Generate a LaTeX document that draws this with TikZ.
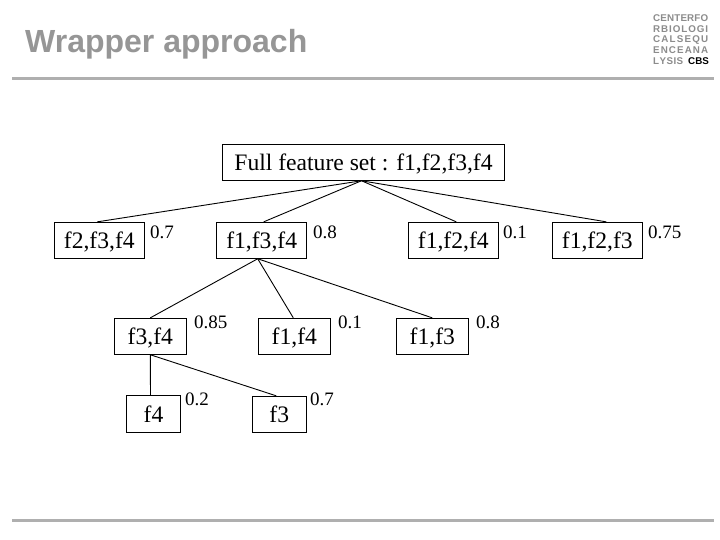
\documentclass[tikz,border=0pt]{standalone}
\usepackage{fontspec}
\setmainfont{Liberation Serif}
\newfontfamily\sansf{Liberation Sans}
\definecolor{titlegray}{RGB}{150,150,150}
\definecolor{rulegray}{RGB}{175,175,175}
\definecolor{logogray}{RGB}{140,140,140}
\tikzset{
  fbox/.style={draw=black,line width=0.9pt,fill=white,inner sep=0pt,text height=21pt,text depth=4pt,font=\fontsize{23.6}{28}\selectfont},
  score/.style={inner sep=0pt,font=\fontsize{19}{22}\selectfont,anchor=base west},
  link/.style={draw=black,line width=0.9pt},
  rulebar/.style={fill=rulegray,draw=none},
  logotxt/.style={inner sep=0pt,anchor=base west,text=logogray,font=\sansf\bfseries\fontsize{9.8}{10}\selectfont}
}
\newcommand{\boxnode}[6]{\node[fbox,minimum width=#4pt,minimum height=#5pt] (#1) at (#2,#3) {#6};}
\begin{document}
\begin{tikzpicture}[x=1pt,y=-1pt]
\useasboundingbox (0,0) rectangle (720,540);
\fill[white] (0,0) rectangle (720,540);
\node[inner sep=0pt,anchor=base west,text=titlegray,font=\sansf\bfseries\fontsize{32}{36}\selectfont] (title) at (25,53) {Wrapper approach};
\fill[rulebar] (12,76.8) rectangle (714,79.8);
\fill[rulebar] (12,518.5) rectangle (714,521.5);
\node[logotxt] (l1) at (653,22) {\hbox to 55pt{C\hfil E\hfil N\hfil T\hfil E\hfil R\hfil F\hfil O}};
\node[logotxt] (l2) at (653,32.5) {\hbox to 55pt{R\hfil B\hfil I\hfil O\hfil L\hfil O\hfil G\hfil I}};
\node[logotxt] (l3) at (653,43) {\hbox to 55pt{C\hfil A\hfil L\hfil S\hfil E\hfil Q\hfil U}};
\node[logotxt] (l4) at (653,53.5) {\hbox to 55pt{E\hfil N\hfil C\hfil E\hfil A\hfil N\hfil A}};
\node[logotxt] (l5) at (653,64.5) {\hbox to 30pt{L\hfil Y\hfil S\hfil I\hfil S}};
\node[logotxt,text=black,font=\sansf\bfseries\fontsize{9.8}{10}\selectfont] (l6) at (688,64.5) {\hbox to 20pt{C\hfil B\hfil S}};
\boxnode{root}{363.5}{162.3}{281.6}{36}{Full feature set : f1,f2,f3,f4}
\boxnode{a}{99.3}{240.3}{90}{36}{f2,f3,f4}
\boxnode{b}{261.7}{240.3}{90}{36}{f1,f3,f4}
\boxnode{c}{453.3}{240.3}{90}{36}{f1,f2,f4}
\boxnode{d}{597.3}{240.3}{90}{36}{f1,f2,f3}
\boxnode{e}{150.3}{336.3}{72}{36}{f3,f4}
\boxnode{f}{294.3}{336.3}{72}{36}{f1,f4}
\boxnode{g}{432.3}{336.3}{72}{36}{f1,f3}
\boxnode{h}{153.5}{414}{54}{36.5}{f4}
\boxnode{i}{279.3}{414.3}{54}{36}{f3}
\node[score] (sa) at (150,238) {0.7};
\node[score] (sb) at (313,238) {0.8};
\node[score] (sc) at (503,238) {0.1};
\node[score] (sd) at (648,238) {0.75};
\node[score] (se) at (194,328) {0.85};
\node[score] (sf) at (338,328) {0.1};
\node[score] (sg) at (476,328) {0.8};
\node[score] (sh) at (185,405) {0.2};
\node[score] (si) at (310,405) {0.7};
\draw[link] ([xshift=-2pt]root.south) -- ([xshift=-2pt]a.north);
\draw[link] ([xshift=-2pt]root.south) -- ([xshift=2pt]b.north);
\draw[link] ([xshift=-2pt]root.south) -- ([xshift=3pt]c.north);
\draw[link] ([xshift=-2pt]root.south) -- ([xshift=9pt]d.north);
\draw[link] ([xshift=-4pt]b.south) -- (e.north);
\draw[link] ([xshift=-4pt]b.south) -- ([xshift=-1pt]f.north);
\draw[link] ([xshift=-4pt]b.south) -- (g.north);
\draw[link] (e.south) -- ([xshift=-3pt]h.north);
\draw[link] (e.south) -- ([xshift=-3pt]i.north);
\end{tikzpicture}
\end{document}
